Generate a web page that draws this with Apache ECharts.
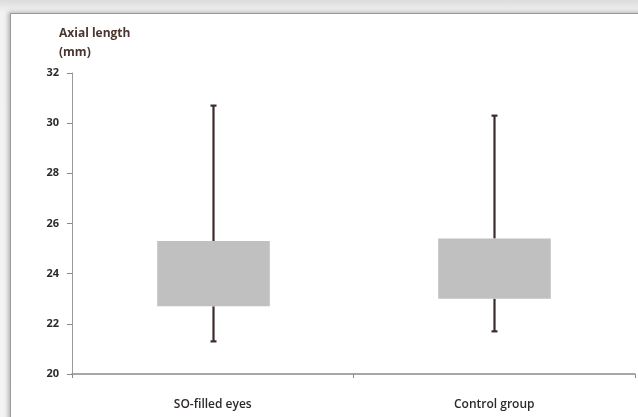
<!DOCTYPE html>
<html>
<head>
<meta charset="utf-8">
<script src="https://cdn.jsdelivr.net/npm/echarts@6/dist/echarts.min.js"></script>
<style>
html,body{margin:0;padding:0;width:638px;height:417px;overflow:hidden;
 background:linear-gradient(#dcdcdc 0px,#f2f2f2 12px,#f4f4f4 100%);}
#frame{position:absolute;left:10px;top:13px;width:640px;height:420px;background:#fff;
 border-left:1px solid #9a9a9a;border-top:1px solid #9a9a9a;box-shadow:-2px -1px 4px rgba(0,0,0,0.25);}
#chart{position:absolute;left:0;top:0;width:638px;height:417px;}
</style>
</head>
<body>
<div id="frame"></div>
<div id="chart"></div>
<script>
const categories = ['SO-filled eyes', 'Control group'];
const whiskerLow = [21.3, 21.7];
const boxLow = [22.7, 23.0];
const boxHigh = [25.3, 25.4];
const whiskerHigh = [30.7, 30.3];
const yTicks = [20, 22, 24, 26, 28, 30, 32];

const data = categories.map((c, i) => [i, whiskerLow[i], boxLow[i], boxHigh[i], whiskerHigh[i]]);

const chart = echarts.init(document.getElementById('chart'), null, {renderer: 'canvas'});
const labelFont = {fontFamily: 'Open Sans', fontSize: 11, fontWeight: 700, color: '#2e2929'};

chart.setOption({
  backgroundColor: 'transparent',
  animation: false,
  title: {
    text: 'Axial length\n(mm)',
    left: 54, top: 19,
    textStyle: {fontFamily: 'Open Sans', fontSize: 12, fontWeight: 700, color: '#4a362e', lineHeight: 19}
  },
  grid: {left: 72, right: 3, top: 73, bottom: 43},
  xAxis: {
    type: 'category',
    data: categories,
    axisLine: {lineStyle: {color: '#8a8a8a', width: 1.5}},
    axisTick: {show: true, length: 4, lineStyle: {color: '#8a8a8a'}},
    axisLabel: Object.assign({}, labelFont, {margin: 25, fontSize: 12, fontWeight: 600}),
    splitLine: {show: false}
  },
  yAxis: {
    type: 'value',
    min: yTicks[0], max: yTicks[yTicks.length - 1], interval: 2,
    axisLine: {show: true, lineStyle: {color: '#9a9a9a', width: 1}},
    axisTick: {show: true, length: 5, lineStyle: {color: '#8a8a8a'}},
    axisLabel: Object.assign({margin: 13}, labelFont),
    splitLine: {show: false}
  },
  series: [{
    type: 'custom',
    data: data,
    encode: {x: 0, y: [1, 2, 3, 4]},
    renderItem: function (params, api) {
      const x = api.value(0);
      const pLow = api.coord([x, api.value(1)]);
      const pQ1 = api.coord([x, api.value(2)]);
      const pQ3 = api.coord([x, api.value(3)]);
      const pHigh = api.coord([x, api.value(4)]);
      const bw = api.size([1, 0])[0] * 0.4;
      const cx = Math.round(pLow[0]) + 0.5;
      const lineStyle = {stroke: '#3d2c2c', lineWidth: 2.2};
      const cap = 3;
      return {
        type: 'group',
        children: [
          {type: 'line', shape: {x1: cx, y1: pHigh[1], x2: cx, y2: pQ3[1]}, style: lineStyle},
          {type: 'line', shape: {x1: cx, y1: pQ1[1], x2: cx, y2: pLow[1]}, style: lineStyle},
          {type: 'line', shape: {x1: cx - cap, y1: pHigh[1], x2: cx + cap, y2: pHigh[1]}, style: lineStyle},
          {type: 'line', shape: {x1: cx - cap, y1: pLow[1], x2: cx + cap, y2: pLow[1]}, style: lineStyle},
          {type: 'rect', shape: {x: cx - bw / 2, y: pQ3[1], width: bw, height: pQ1[1] - pQ3[1]},
           style: {fill: '#c0c0c0'}}
        ]
      };
    }
  }]
});
</script>
</body>
</html>
